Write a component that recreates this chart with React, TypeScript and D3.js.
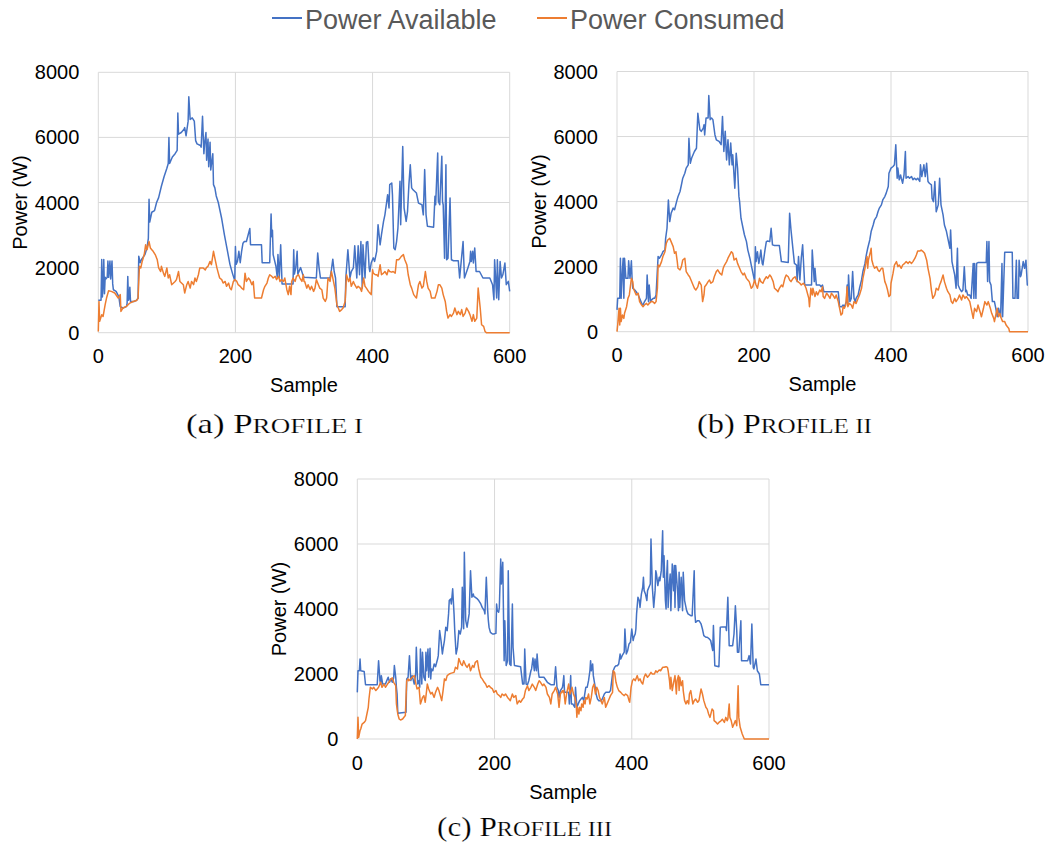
import React from 'react';
import * as d3 from 'd3';

type Pt = [number, number];

const xTicks = [0, 200, 400, 600];
const yTicks = [0, 2000, 4000, 6000, 8000];
const seriesNames = ['Power Available', 'Power Consumed'];
const seriesColors = ['#4472C4', '#ED7D31'];
const captionLetters = ['(a) ', '(b) ', '(c) '];
const captionNumerals = ['I', 'II', 'III'];

const availableA: Pt[] = [
[0,1000],[4,1000],[5,2250],[6,1100],[7,1500],[8,2250],[9,1200],[10,1700],[11,1650],[13,1700],[14,2200],[15,1700],[17,2200],[18,1650],[20,2200],[21,1500],[22,1320],[26,1270],[30,1100],[32,800],[36,760],[41,800],[42,900],[43,1730],[44,1000],[45,1060],[46,1400],[47,960],[52,960],[56,1000],[58,1060],[59,2350],[61,2150],[63,2250],[68,2400],[71,2600],[73,2900],[74,4100],[75,3400],[78,3700],[82,3750],[85,4000],[88,4150],[92,4500],[96,4800],[100,5050],[102,5200],[103,6000],[104,5200],[108,5400],[112,5500],[115,5600],[116,6750],[117,6100],[121,6150],[125,6250],[126,6300],[128,6050],[131,6500],[132,7250],[134,6550],[137,6600],[140,6500],[142,5900],[144,5800],[149,5750],[150,5700],[152,6650],[154,5500],[155,5800],[157,6150],[158,5300],[160,5950],[161,5100],[163,5850],[164,5000],[167,5500],[168,4550],[170,4450],[172,4200],[175,4000],[178,3700],[180,3500],[184,3000],[188,2550],[192,2100],[196,1800],[199,1600],[200,2650],[201,2100],[203,2200],[205,2500],[207,2150],[209,2500],[211,2750],[213,2800],[216,2800],[221,3200],[222,2700],[238,2700],[239,2150],[250,2150],[252,3650],[253,2950],[254,3150],[255,2400],[259,2050],[261,1700],[262,2400],[264,1700],[266,2700],[268,1500],[284,1500],[285,2550],[286,1800],[288,2000],[290,2500],[291,1800],[295,2000],[298,1800],
[300,1700],[318,1680],[320,2450],[322,1990],[324,1680],[338,1680],[340,1935],[342,2260],[344,1880],[346,1680],[348,800],[360,800],[361,1680],[364,2550],[367,1680],[369,1880],[372,1990],[374,2670],[377,1680],[379,2670],[381,1780],[383,2800],[385,1370],[386,2700],[389,1680],[391,2780],[393,2800],[395,1990],[396,1880],[398,2140],[401,2300],[403,2190],[406,2500],[408,3320],[411,2700],[413,3010],[416,3420],[418,3620],[420,3930],[422,4240],[424,3830],[425,4550],[428,4600],[429,4240],[431,2600],[433,2550],[435,2800],[437,3215],[440,4650],[441,3320],[444,5720],[446,3830],[449,3420],[451,3730],[453,4550],[455,5160],[457,4450],[459,4390],[464,4290],[467,3980],[472,3930],[474,3620],[476,5010],[478,3620],[480,3270],[489,3240],[491,4190],[492,3930],[495,5520],[496,4030],[498,3930],[501,5420],[502,4030],[503,3930],[505,2290],[507,5160],[508,2240],[510,2290],[513,4140],[515,2240],[518,2210],[525,2210],[527,1680],[532,2800],[534,1680],[539,1990],[542,2190],[543,2500],[544,2190],[546,2500],[547,2140],[549,2600],[551,1880],[556,1880],[561,1680],[571,1680],[575,1475],[577,1015],[578,2240],[581,1065],[582,2240],[584,1015],[586,2190],[588,1680],[590,1780],[593,2140],[595,1475],[598,1580],[600,1270]
];

const consumedA: Pt[] = [
[0,40],[1,960],[2,350],[5,550],[7,500],[10,860],[12,1065],[15,1290],[19,1270],[24,1220],[29,1065],[32,1170],[33,655],[36,760],[41,810],[46,910],[51,960],[56,990],[58,1065],[60,2040],[62,1990],[64,2190],[67,2400],[69,2700],[71,2550],[74,2800],[76,2600],[78,2550],[80,2500],[83,2400],[84,2350],[86,2240],[88,1990],[91,1880],[92,2040],[95,1830],[97,1730],[100,1990],[102,1680],[104,1780],[107,1475],[112,1575],[114,1630],[117,1880],[119,1575],[124,1475],[126,1220],[129,1475],[131,1575],[134,1370],[136,1575],[139,1475],[141,1680],[143,1575],[146,1780],[148,1990],[153,1990],[156,1930],[158,2010],[160,2040],[163,2190],[165,2090],[168,2500],[170,2290],[173,1990],[175,1830],[177,1680],[180,1630],[182,1525],[185,1575],[187,1425],[190,1525],[192,1370],[194,1320],[197,1575],[199,1630],[202,1575],[204,1475],[207,1425],[209,1370],[212,1320],[214,1830],[216,1575],[219,1680],[221,1630],[224,1475],[226,1575],[228,1065],[233,1065],[238,1065],[241,1320],[243,1425],[246,1525],[248,1680],[250,1780],[253,1730],[255,1680],[258,1730],[260,1630],[263,1730],[265,1575],[267,1630],[270,1575],[272,1680],[275,1320],[277,1170],[279,1425],[281,1170],[282,1575],[284,1680],[287,1575],[289,1730],[292,1780],[294,1680],[297,1575],[299,1780],[300,1575],
[301,1575],[304,1370],[306,1475],[309,1320],[311,1425],[314,1270],[316,1370],[318,1630],[321,1475],[323,1370],[326,1320],[328,1065],[331,960],[333,1065],[335,1680],[338,1575],[340,1880],[343,1575],[345,1370],[348,860],[350,760],[352,655],[355,710],[357,760],[360,960],[362,1780],[365,1575],[367,1680],[369,1425],[372,1575],[374,1475],[377,1370],[379,1425],[382,1370],[384,1270],[387,1680],[389,1425],[391,1370],[394,1270],[396,1220],[398,1170],[400,1935],[401,1830],[404,1780],[406,1780],[408,1730],[411,2090],[413,1780],[416,1830],[418,1880],[421,1780],[423,1935],[425,1880],[428,1860],[430,1880],[433,1830],[435,2240],[438,2240],[440,2290],[442,2345],[445,2400],[447,2240],[450,2090],[452,1780],[455,1475],[457,1370],[460,1170],[462,1115],[464,1065],[467,1475],[469,1575],[472,1370],[474,1425],[477,1880],[479,1575],[481,1370],[484,1270],[486,1065],[489,1065],[491,1065],[494,1270],[496,1475],[498,1475],[501,1370],[503,1170],[506,960],[508,655],[510,450],[513,555],[515,500],[518,600],[520,760],[523,555],[525,655],[528,555],[530,710],[532,500],[535,600],[537,760],[540,655],[542,555],[545,350],[547,555],[549,350],[552,450],[554,1370],[557,760],[559,245],[562,195],[564,40],[566,0],[600,0]
];

const availableB: Pt[] = [
[0,670],[1,1025],[4,1025],[5,2260],[6,1025],[8,1950],[9,2260],[10,1025],[11,2260],[13,1640],[16,1640],[17,2180],[19,1640],[21,2180],[22,1640],[23,1335],[26,1280],[28,1230],[31,1130],[33,1025],[36,870],[38,820],[40,920],[43,1025],[44,1745],[46,920],[47,1435],[49,920],[50,970],[53,1025],[55,1025],[57,1130],[60,2310],[62,2260],[65,2360],[67,2460],[70,2510],[71,2870],[73,3180],[75,4050],[77,3385],[79,3640],[82,3800],[84,3750],[87,4000],[89,4150],[92,4310],[94,4510],[96,4720],[99,4870],[101,5030],[104,5130],[105,5950],[107,5180],[109,5340],[111,5440],[113,5540],[116,5640],[118,6720],[121,6210],[123,6160],[126,6260],[127,6360],[128,6050],[130,6570],[133,6570],[134,7260],[136,6520],[138,6570],[140,6520],[143,6050],[145,5900],[149,5850],[152,5750],[154,6620],[156,5540],[158,6160],[160,5280],[162,5900],[164,5130],[166,5800],[168,5130],[169,5440],[172,4410],[174,5490],[176,5030],[178,4160],[179,4000],[181,3490],[184,3180],[186,2980],[189,2770],[191,2510],[194,2260],[196,2050],[198,1850],[201,1540],[202,2615],[203,2155],[205,2460],[207,2100],[208,2200],[210,2510],[212,2100],[213,2050],[216,2510],[218,2770],[220,2790],[223,2770],[225,3180],[227,2670],[230,2650],[237,2650],[240,2155],[250,2130],[252,3640],[254,3130],[257,2510],[259,2100],[262,2050],[263,1540],[265,2310],[267,1590],[269,2260],[271,2670],[274,1435],[284,1435],[285,2515],[288,1540],[289,1950],[291,1435],[296,1435],[298,1385],[300,1435],
[302,1230],[323,1230],[325,770],[328,770],[330,820],[332,770],[335,925],[336,1435],[337,820],[338,1745],[340,925],[342,1025],[344,1850],[346,1025],[348,925],[349,1025],[352,1130],[354,1335],[357,1590],[359,1850],[362,2100],[364,2360],[366,2565],[369,2820],[371,3080],[374,3280],[376,3440],[379,3540],[381,3690],[383,3800],[386,3900],[388,4050],[391,4155],[393,4260],[396,4465],[397,4870],[398,4925],[400,5030],[403,5080],[405,5130],[407,5745],[409,4720],[410,5030],[412,4670],[414,4820],[415,4720],[417,4565],[419,4820],[421,5540],[422,4720],[425,4770],[427,4720],[430,4770],[432,4670],[434,4720],[437,4670],[439,4720],[442,4620],[443,5130],[445,4770],[448,5130],[450,4770],[452,5180],[454,4620],[456,4565],[459,4515],[460,4100],[462,4000],[464,4620],[466,3690],[469,3900],[471,4720],[473,3900],[476,3590],[478,3280],[481,3080],[483,2870],[486,2565],[487,3130],[489,2155],[491,1950],[493,1745],[495,1335],[497,2565],[498,1435],[500,1335],[503,1230],[505,1280],[507,2000],[509,1230],[510,1280],[512,1130],[515,1130],[517,1025],[520,2100],[521,1025],[522,2100],[524,1025],[525,2100],[527,2125],[539,2125],[540,2770],[541,1540],[543,2770],[544,1540],[546,1435],[548,925],[551,925],[553,720],[555,460],[557,720],[560,460],[562,2100],[563,460],[566,2440],[577,2440],[578,1025],[581,1025],[583,2200],[584,1025],[586,1025],[587,2200],[589,1690],[590,1745],[593,2155],[595,1950],[597,2200],[599,1435],[600,1435]
];

const consumedB: Pt[] = [
[0,0],[1,205],[3,720],[4,205],[5,720],[6,310],[8,513],[10,410],[11,565],[14,770],[16,1025],[18,1130],[21,1640],[23,1540],[24,1335],[26,1230],[28,1130],[31,1180],[33,925],[36,820],[38,770],[40,820],[43,870],[45,820],[47,870],[50,925],[52,925],[55,870],[57,925],[59,1335],[60,2050],[62,2000],[65,2155],[67,2310],[70,2460],[72,2720],[74,2820],[77,2870],[79,2770],[82,2615],[84,2410],[86,2460],[88,2155],[89,1950],[92,1900],[94,2000],[96,2205],[99,2260],[101,1850],[104,1745],[106,1690],[108,1590],[111,1435],[113,1335],[115,1280],[118,1380],[120,1540],[123,1435],[125,925],[127,1130],[128,1380],[130,1435],[133,1540],[135,1590],[137,1490],[140,1540],[142,1690],[145,1850],[147,1900],[150,1800],[153,1745],[155,1950],[157,2050],[160,2155],[162,2260],[167,2460],[169,2410],[171,2205],[174,2260],[176,2100],[179,1950],[181,1850],[184,1745],[186,1800],[189,1640],[191,1590],[193,1540],[196,1335],[198,1380],[201,1590],[203,1435],[205,1335],[208,1640],[210,1540],[213,1490],[215,1590],[218,1690],[220,1640],[223,1745],[225,1690],[228,1540],[230,1335],[233,1280],[235,1230],[237,1335],[240,1435],[242,1380],[245,1640],[247,1745],[250,1690],[252,1590],[254,1540],[257,1640],[260,1690],[262,1590],[264,1540],[267,1490],[269,1435],[272,1490],[274,1435],[276,1335],[280,1025],[281,770],[283,1335],[285,1130],[286,1335],[289,1080],[291,1230],[293,1130],[296,1280],[298,1230],[300,1380],
[301,1080],[303,1025],[306,1180],[308,1130],[311,1025],[313,1180],[315,1130],[318,1025],[320,1130],[323,925],[325,720],[327,513],[329,560],[330,770],[332,720],[334,820],[336,1385],[337,770],[339,870],[342,820],[344,720],[346,925],[349,870],[351,975],[354,1130],[357,1335],[359,1640],[362,1950],[364,2205],[365,2310],[366,1950],[367,2205],[370,2460],[371,2565],[372,2205],[374,2050],[376,1950],[379,2000],[381,1900],[383,1850],[386,1950],[388,1950],[391,1540],[393,1435],[395,1280],[397,1080],[399,1130],[400,1490],[403,1800],[405,2050],[408,2155],[410,2000],[412,2050],[415,1950],[417,2050],[420,2100],[422,2155],[425,2100],[427,2155],[430,2100],[432,2155],[435,2260],[437,2360],[439,2480],[442,2480],[444,2510],[447,2460],[449,2410],[452,2205],[454,1950],[457,1640],[459,1280],[461,1025],[464,1130],[466,1335],[469,1280],[471,1435],[473,1540],[476,1745],[478,1540],[481,1335],[483,1230],[486,1130],[488,925],[490,870],[493,1025],[495,925],[498,1025],[500,1130],[503,975],[505,1130],[508,1025],[510,1080],[512,1025],[515,925],[517,720],[520,410],[522,720],[525,615],[527,820],[530,615],[532,460],[535,720],[537,925],[540,820],[542,925],[545,720],[547,565],[550,410],[551,310],[553,513],[555,720],[557,460],[559,565],[561,410],[563,310],[566,310],[568,205],[570,150],[572,100],[573,0],[600,0]
];

const availableC: Pt[] = [
[0,1435],[1,2100],[3,2100],[4,2460],[5,2100],[10,2080],[12,1670],[29,1670],[31,2410],[33,1800],[34,1690],[35,1950],[37,1690],[41,1690],[44,1850],[45,1900],[47,1745],[49,1850],[51,1745],[53,1880],[54,2260],[56,1900],[57,1590],[58,1385],[59,790],[71,820],[72,1850],[74,1900],[76,2565],[78,1800],[80,1950],[83,1690],[85,2000],[86,2820],[88,1690],[90,1800],[91,1590],[92,2770],[94,1690],[95,2670],[97,1900],[99,1800],[100,2670],[101,2100],[103,2770],[104,1900],[106,2790],[107,1850],[108,2155],[110,2100],[112,2310],[114,2225],[117,2460],[118,2565],[120,3335],[122,3030],[124,2615],[125,2770],[127,3030],[129,3440],[131,3335],[133,3850],[134,4260],[136,4310],[137,4155],[139,4620],[141,3850],[142,3335],[144,2615],[146,2820],[148,3335],[150,3230],[152,3440],[153,4670],[155,3390],[156,5745],[158,3640],[160,3440],[163,3850],[165,5180],[167,4360],[169,4460],[170,4380],[172,4360],[175,4310],[177,4260],[180,4155],[182,4050],[185,3950],[186,3850],[188,4975],[190,3950],[191,3640],[192,3440],[194,3280],[197,3230],[199,3230],[202,3250],[203,4155],[204,3950],[206,3900],[207,4050],[209,5540],[210,4770],[212,5440],[214,2410],[215,3640],[217,2260],[219,2410],[220,5180],[222,2310],[224,2260],[226,4155],[227,2820],[229,2260],[238,2225],[241,1690],[243,1690],[244,2770],[246,1690],[248,1670],[250,1800],[253,2100],[254,2155],[256,2490],[258,2100],[259,2460],[261,2100],[262,2615],[264,2050],[265,1900],[272,1900],[277,1745],[282,1670],[287,1670],[289,2225],[291,1590],[293,1490],[294,1280],[296,1490],[299,1590],[300,1745],
[301,1950],[302,1435],[308,1435],[309,1080],[311,1950],[312,1080],[314,1080],[317,975],[318,1590],[320,975],[322,1080],[324,1180],[326,1230],[328,1280],[330,1180],[333,1590],[335,1590],[337,1795],[339,2100],[340,2410],[341,2100],[343,2310],[344,1950],[346,1690],[348,1385],[350,1230],[352,1180],[355,1180],[357,1230],[360,1385],[362,1435],[367,1435],[369,1490],[372,2000],[373,2100],[375,2205],[377,2255],[379,2255],[381,2310],[383,2615],[384,2460],[386,2565],[389,2670],[390,3385],[392,2615],[394,2720],[396,2925],[398,2975],[400,3385],[402,3030],[403,3130],[405,3230],[406,3385],[407,3850],[409,4360],[411,4260],[412,4050],[414,4460],[416,4670],[417,4975],[418,4565],[420,4460],[422,4260],[423,4565],[425,4670],[427,4770],[428,6155],[430,4670],[432,4050],[434,4565],[435,5180],[436,5080],[438,4720],[440,4975],[441,4870],[443,5180],[445,6410],[446,4975],[447,5640],[449,4260],[450,4000],[451,5080],[452,5490],[453,4050],[454,4565],[456,5080],[457,3950],[459,5385],[461,4565],[462,5335],[463,4050],[464,5335],[466,4770],[467,4460],[468,3950],[469,5130],[470,4050],[472,4975],[474,3950],[475,5130],[477,4260],[479,4050],[480,3950],[482,3850],[486,3795],[488,3795],[491,5180],[492,3850],[493,3590],[496,3640],[498,3640],[501,3540],[503,3385],[505,3180],[508,3130],[510,3130],[513,3080],[515,3030],[518,2720],[519,3490],[521,2255],[527,2225],[529,3440],[532,3450],[537,3450],[538,3335],[540,4360],[542,2870],[547,2870],[549,3230],[551,4100],[553,3335],[554,2670],[556,2670],[559,3640],[560,2410],[569,2410],[571,2565],[573,2310],[575,3540],[577,2205],[578,2155],[581,2460],[583,2100],[586,2000],[588,1670],[600,1670]
];

const consumedC: Pt[] = [
[0,0],[1,670],[2,50],[4,260],[5,310],[7,460],[10,510],[12,565],[14,770],[16,975],[17,1230],[19,1590],[22,1540],[24,1590],[27,1490],[29,1540],[31,1590],[34,1745],[36,1590],[39,1690],[41,1590],[44,1690],[46,1745],[49,1850],[51,1880],[53,1745],[56,1640],[57,1080],[59,770],[61,615],[63,585],[66,615],[68,670],[70,720],[72,1795],[74,1850],[75,1795],[78,1850],[80,1900],[83,1950],[85,1745],[87,1540],[90,1590],[92,1080],[95,1280],[97,1335],[99,1130],[101,1490],[102,1690],[104,1540],[107,1385],[109,1435],[112,1280],[114,1435],[117,1590],[119,1490],[121,1335],[123,1180],[125,1490],[127,1850],[129,1800],[131,1950],[134,2000],[136,2020],[141,2050],[143,2205],[146,2155],[148,2480],[151,2310],[153,2260],[155,2410],[158,2260],[160,2205],[163,2310],[165,2100],[168,2260],[170,2205],[172,2360],[175,2410],[177,2155],[180,1900],[182,1850],[185,1745],[187,1690],[189,1590],[192,1640],[194,1590],[197,1540],[199,1435],[202,1490],[204,1385],[207,1335],[209,1280],[211,1385],[214,1335],[216,1385],[219,1280],[221,1230],[223,1180],[226,1385],[228,1280],[231,1335],[233,1080],[236,1180],[238,1130],[241,1230],[243,1280],[245,1490],[248,1640],[250,1490],[253,1590],[255,1690],[258,1590],[260,1490],[263,1690],[265,1795],[267,1745],[270,1640],[272,1690],[275,1590],[277,1385],[280,1280],[282,1080],[284,1385],[287,1490],[289,1590],[292,1385],[294,975],[296,1385],[299,1490],[300,1435],
[301,1490],[303,1080],[305,1385],[307,1590],[308,1690],[310,1385],[312,1490],[313,1590],[315,1385],[317,1280],[319,1080],[320,670],[321,975],[323,770],[324,975],[326,870],[327,1080],[329,975],[330,1180],[332,1080],[333,1280],[335,1230],[337,1385],[339,1080],[341,1280],[343,1590],[345,1690],[347,1385],[349,1590],[351,1490],[353,1280],[355,1180],[357,1080],[360,1280],[362,975],[364,1080],[367,1230],[369,1335],[372,1435],[373,2100],[375,2050],[377,1745],[379,1590],[381,1490],[384,1435],[386,1385],[389,1335],[391,1385],[394,1335],[396,1180],[397,1130],[399,1590],[401,1795],[403,1850],[405,1795],[408,1950],[410,1795],[412,1850],[414,1745],[416,1690],[418,1900],[420,2000],[423,1900],[425,1950],[428,2050],[430,2000],[433,2000],[435,2100],[437,2050],[440,2125],[442,2100],[445,2205],[447,2205],[450,2225],[452,2205],[453,2100],[455,1795],[456,1540],[457,1900],[459,1490],[461,1745],[463,1950],[465,1385],[466,1795],[468,1950],[469,1490],[470,1900],[472,1640],[474,1795],[475,1490],[477,1180],[479,1080],[481,1180],[483,1080],[484,1385],[486,1490],[489,1080],[491,1180],[493,1230],[496,1130],[498,1185],[501,1540],[503,1385],[505,1180],[508,975],[510,920],[512,770],[514,665],[517,920],[519,870],[520,565],[523,510],[525,460],[527,510],[530,560],[532,610],[535,510],[537,665],[539,560],[540,610],[542,1080],[543,665],[545,560],[547,360],[549,460],[551,565],[553,410],[555,1640],[556,665],[558,360],[561,155],[564,0],[600,0]
];

const panels = [
  { left: 98.3, right: 509.7, top: 72.3, bottom: 332.7, series: [availableA, consumedA], capX: 186, capY: 433, capW: 177 },
  { left: 617, right: 1028, top: 71.5, bottom: 331.7, series: [availableB, consumedB], capX: 697, capY: 433, capW: 175 },
  { left: 357.3, right: 769, top: 479, bottom: 739, series: [availableC, consumedC], capX: 437, capY: 836, capW: 175 },
];

const sansFont = '"Liberation Sans", Arial, Helvetica, sans-serif';
const serifFont = '"Liberation Serif", "Times New Roman", serif';

function Panel({ p, idx }: { p: typeof panels[number]; idx: number }) {
  const x = d3.scaleLinear().domain([0, 600]).range([p.left, p.right]);
  const y = d3.scaleLinear().domain([0, 8000]).range([p.bottom, p.top]);
  const line = d3.line<Pt>().x(d => x(d[0])).y(d => y(d[1]));
  const cx = (p.left + p.right) / 2;
  const cy = (p.top + p.bottom) / 2;
  return (
    <g>
      {yTicks.map(t => (
        <line key={'gy' + t} x1={p.left} x2={p.right} y1={y(t)} y2={y(t)} stroke="#D9D9D9" strokeWidth={1} />
      ))}
      {xTicks.map(t => (
        <line key={'gx' + t} x1={x(t)} x2={x(t)} y1={p.top} y2={p.bottom} stroke="#D9D9D9" strokeWidth={1} />
      ))}
      {p.series.map((s, i) => (
        <path key={'s' + i} d={line(s) || ''} fill="none" stroke={seriesColors[i]} strokeWidth={1.5} strokeLinejoin="round" />
      ))}
      {yTicks.map(t => (
        <text key={'ty' + t} x={p.left - 19} y={y(t) + 7} textAnchor="end" fontSize={20} fontFamily={sansFont} fill="#000">{t}</text>
      ))}
      {xTicks.map(t => (
        <text key={'tx' + t} x={x(t)} y={p.bottom + 30.5} textAnchor="middle" fontSize={20} fontFamily={sansFont} fill="#000">{t}</text>
      ))}
      <text x={cx} y={p.bottom + 59.5} textAnchor="middle" fontSize={20} fontFamily={sansFont} fill="#000">Sample</text>
      <text transform={`translate(${p.left - 71.3},${cy}) rotate(-90)`} textAnchor="middle" fontSize={20} fontFamily={sansFont} fill="#000">Power (W)</text>
      <text x={p.capX} y={p.capY} fontSize={27} fontFamily={serifFont} fill="#000" stroke="#fff" strokeWidth={0.2}
        textLength={p.capW} lengthAdjust="spacingAndGlyphs">
        {captionLetters[idx]}P<tspan fontSize={21}>{'ROFILE ' + captionNumerals[idx]}</tspan>
      </text>
    </g>
  );
}

export default function App() {
  return (
    <svg width={1048} height={845} style={{ position: 'absolute', left: 0, top: 0, background: '#fff' }}>
      <rect x={0} y={0} width={1048} height={845} fill="#fff" />
      <line x1={272} x2={302} y1={18} y2={18} stroke={seriesColors[0]} strokeWidth={2} />
      <text x={305} y={29} fontSize={27} fontFamily={sansFont} fill="#595959">{seriesNames[0]}</text>
      <line x1={537} x2={567} y1={18} y2={18} stroke={seriesColors[1]} strokeWidth={2} />
      <text x={570} y={29} fontSize={27} fontFamily={sansFont} fill="#595959">{seriesNames[1]}</text>
      {panels.map((p, i) => <Panel key={i} p={p} idx={i} />)}
    </svg>
  );
}
